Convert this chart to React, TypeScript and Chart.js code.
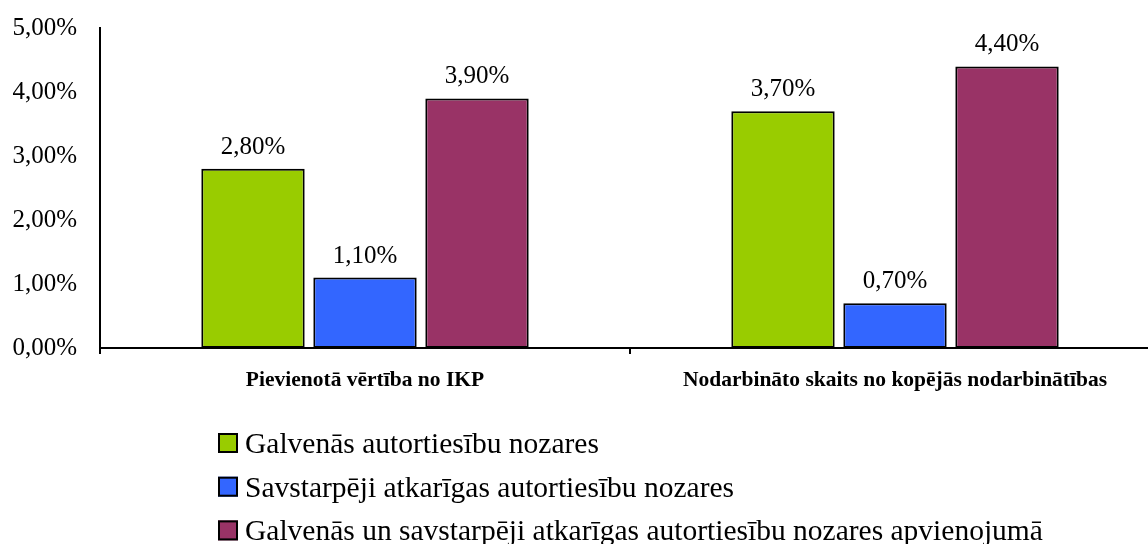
import React, { useEffect, useRef } from "react";
import { Chart, registerables } from "chart.js";

Chart.register(...registerables);

const categories = [
  "Pievienotā vērtība no IKP",
  "Nodarbināto skaits no kopējās nodarbinātības",
];
const seriesNames = [
  "Galvenās autortiesību nozares",
  "Savstarpēji atkarīgas autortiesību nozares",
  "Galvenās un savstarpēji atkarīgas autortiesību nozares apvienojumā",
];
const galvenasValues = [2.8, 3.7];
const savstarpejiValues = [1.1, 0.7];
const apvienojumaValues = [3.9, 4.4];
const yTickValues = [0, 1, 2, 3, 4, 5];
const seriesColors = ["#99CC00", "#3366FF", "#993366"];

const FONT = '"Liberation Serif", "Times New Roman", serif';
const fmt = (v: number) => v.toFixed(2).replace(".", ",") + "%";

const valueLabelsPlugin = {
  id: "valueLabels",
  afterDatasetsDraw(chart: any) {
    const ctx = chart.ctx;
    ctx.save();
    ctx.font = `25px ${FONT}`;
    ctx.fillStyle = "#000";
    ctx.textAlign = "center";
    ctx.textBaseline = "alphabetic";
    chart.data.datasets.forEach((ds: any, i: number) => {
      const meta = chart.getDatasetMeta(i);
      meta.data.forEach((el: any, j: number) => {
        ctx.fillText(fmt(ds.data[j]), el.x, el.y - 15);
      });
    });
    ctx.restore();
  },
};

const legendPlugin = {
  id: "customLegend",
  afterDraw(chart: any) {
    const ctx = chart.ctx;
    ctx.save();
    ctx.font = `29.5px ${FONT}`;
    ctx.textAlign = "left";
    ctx.textBaseline = "alphabetic";
    chart.data.datasets.forEach((ds: any, i: number) => {
      const top = 433 + i * 43.7;
      const x = 218;
      const size = 20;
      ctx.fillStyle = ds.backgroundColor;
      ctx.fillRect(x, top, size, size);
      ctx.strokeStyle = "#000";
      ctx.lineWidth = 2;
      ctx.strokeRect(x + 1, top + 1, size - 2, size - 2);
      ctx.fillStyle = "#000";
      ctx.fillText(ds.label, 245, top + size);
    });
    ctx.restore();
  },
};

export default function App() {
  const canvasRef = useRef<HTMLCanvasElement | null>(null);

  useEffect(() => {
    document.body.style.margin = "0";
    const canvas = canvasRef.current;
    if (!canvas) return;
    const seriesData = [galvenasValues, savstarpejiValues, apvienojumaValues];
    const chart = new Chart(canvas, {
      type: "bar",
      data: {
        labels: categories,
        datasets: seriesData.map((d, i) => ({
          label: seriesNames[i],
          data: d,
          backgroundColor: seriesColors[i],
          borderColor: "#000",
          borderWidth: 2,
          borderSkipped: false,
          categoryPercentage: 0.634,
          barPercentage: 0.923,
        })),
      },
      options: {
        responsive: false,
        animation: false,
        devicePixelRatio: 1,
        layout: { padding: { top: 28, left: 0, right: 2, bottom: 136 } },
        plugins: {
          legend: { display: false },
          tooltip: { enabled: false },
        },
        scales: {
          x: {
            offset: true,
            grid: {
              display: true,
              drawOnChartArea: false,
              offset: true,
              tickLength: 6,
              color: "#000",
              lineWidth: 2,
            },
            border: { display: true, color: "#000", width: 2 },
            ticks: {
              font: { family: FONT, size: 21.5, weight: "bold" },
              color: "#000",
              padding: 14,
              maxRotation: 0,
              autoSkip: false,
            },
            afterFit: (s: any) => {
              s.height = 60;
            },
          },
          y: {
            min: 0,
            max: 5,
            afterBuildTicks: (s: any) => {
              s.ticks = yTickValues.map((v) => ({ value: v }));
            },
            ticks: {
              callback: (v: any) => fmt(Number(v)),
              font: { family: FONT, size: 25 },
              color: "#000",
              padding: 23,
            },
            grid: { display: false, drawTicks: false },
            border: { display: true, color: "#000", width: 2 },
            afterFit: (s: any) => {
              s.width = 100;
              s.paddingTop = 0;
              s.paddingBottom = 0;
            },
          },
        },
      },
      plugins: [valueLabelsPlugin, legendPlugin],
    });
    return () => chart.destroy();
  }, []);

  return (
    <div
      style={{
        position: "fixed",
        left: 0,
        top: 0,
        width: 1148,
        height: 544,
        overflow: "hidden",
        background: "#fff",
      }}
    >
      <canvas
        ref={canvasRef}
        width={1162}
        height={544}
        style={{ width: 1162, height: 544, display: "block" }}
      />
    </div>
  );
}
